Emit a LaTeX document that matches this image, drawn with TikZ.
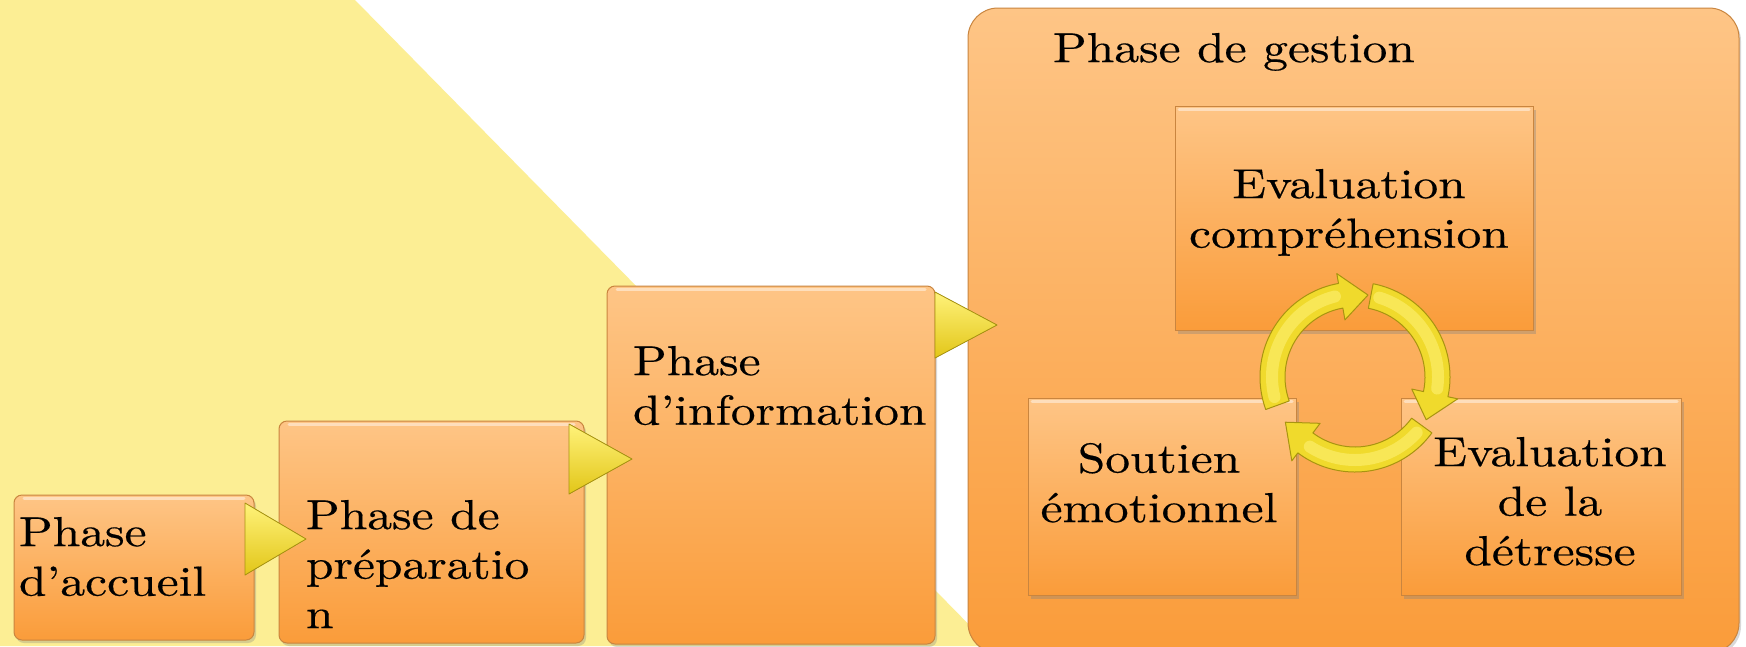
\documentclass[tikz,border=0pt]{standalone}
\usepackage{fontspec}
\setmainfont{lmroman10-regular.otf}[FakeStretch=1.18, FakeBold=0.4]
\usetikzlibrary{shadows}
\definecolor{bgyellow}{HTML}{FCEE94}
\definecolor{boxtop}{HTML}{FEC586}
\definecolor{boxbot}{HTML}{FA9C3A}
\definecolor{boxedge}{HTML}{C9853F}
\definecolor{arrowfill}{HTML}{F0DA2C}
\definecolor{arrowlight}{HTML}{FFF27A}
\definecolor{arrowdark}{HTML}{E2C618}
\definecolor{arrowedge}{HTML}{A89410}
\begin{document}
\begin{tikzpicture}[x=1pt,y=-1pt,
  phasebox/.style={draw=boxedge, line width=1pt, rounded corners=8pt, top color=boxtop, bottom color=boxbot,
    inner sep=0pt, outer sep=0pt, anchor=north west,
    drop shadow={opacity=0.3, shadow xshift=2pt, shadow yshift=-3pt}},
  groupbox/.style={phasebox, rounded corners=30pt},
  stepbox/.style={draw=boxedge, line width=1pt, top color=boxtop, bottom color=boxbot,
    inner sep=0pt, outer sep=0pt, anchor=north west,
    drop shadow={opacity=0.35, shadow xshift=3pt, shadow yshift=-4pt}},
  bevel/.style={draw=white, line width=3pt, opacity=0.45, line cap=round},
  flowtri/.style={draw=arrowedge, line width=0.8pt, top color=arrowlight, bottom color=arrowdark, line join=round},
  ringarrow/.style={draw=arrowedge, line width=1pt, fill=arrowfill, line join=round},
  ringlight/.style={draw=arrowlight, line width=12pt, opacity=0.55, line cap=round},
  lbl/.style={inner sep=0pt, outer sep=0pt, font=\fontsize{42}{49.5}\selectfont, text=black}]
\useasboundingbox (0,0) rectangle (1746,646);
\fill[white] (0,0) rectangle (1746,646);
% yellow background
\fill[bgyellow] (0,0) -- (355,0) -- (990,646) -- (0,646) -- cycle;

% phase boxes
\node[phasebox, minimum width=240, minimum height=145] (acc) at (14,495) {};
\node[phasebox, minimum width=305, minimum height=222] (prep) at (279,421) {};
\node[phasebox, minimum width=328, minimum height=358] (info) at (607,286) {};
\node[groupbox, minimum width=771, minimum height=645] (gest) at (968,8) {};
\draw[bevel] ([xshift=10pt,yshift=-3pt]acc.north west) -- ([xshift=-10pt,yshift=-3pt]acc.north east);
\draw[bevel] ([xshift=10pt,yshift=-3pt]prep.north west) -- ([xshift=-10pt,yshift=-3pt]prep.north east);
\draw[bevel] ([xshift=10pt,yshift=-3pt]info.north west) -- ([xshift=-10pt,yshift=-3pt]info.north east);

% flow triangles
\filldraw[flowtri] (245,503) -- (306,539) -- (245,575) -- cycle;
\filldraw[flowtri] (569,424) -- (632,459) -- (569,494) -- cycle;
\filldraw[flowtri] (935,292) -- (997,325) -- (935,358) -- cycle;

% inner boxes
\node[stepbox, minimum width=358, minimum height=224] (evc) at (1175,106) {};
\node[stepbox, minimum width=268, minimum height=197] (sout) at (1028,398) {};
\node[stepbox, minimum width=280, minimum height=197] (detr) at (1401,398) {};
\draw[bevel] ([xshift=4pt,yshift=-3pt]evc.north west) -- ([xshift=-4pt,yshift=-3pt]evc.north east);
\draw[bevel] ([xshift=4pt,yshift=-3pt]sout.north west) -- ([xshift=-4pt,yshift=-3pt]sout.north east);
\draw[bevel] ([xshift=4pt,yshift=-3pt]detr.north west) -- ([xshift=-4pt,yshift=-3pt]detr.north east);

% cycle arrows
\begin{scope}[shift={(1355,377)}, yscale=-1]
  \filldraw[ringarrow] (200:95) arc[start angle=200, end angle=100, radius=95]
     -- (100:105) -- (81:83) -- (100:58) -- (100:70)
     arc[start angle=100, end angle=200, radius=70] -- cycle;
  \filldraw[ringarrow] (79:95) arc[start angle=79, end angle=-12, radius=95]
     -- (-12:105) -- (-31:83) -- (-12:58) -- (-12:70)
     arc[start angle=-12, end angle=79, radius=70] -- cycle;
  \filldraw[ringarrow] (-36:95) arc[start angle=-36, end angle=-127, radius=95]
     -- (-127:105) -- (-147:83) -- (-127:58) -- (-127:70)
     arc[start angle=-127, end angle=-36, radius=70] -- cycle;
  \draw[ringlight] (194:83) arc[start angle=194, end angle=104, radius=83];
  \draw[ringlight] (73:83) arc[start angle=73, end angle=-8, radius=83];
  \draw[ringlight] (-42:83) arc[start angle=-42, end angle=-123, radius=83];
\end{scope}

% labels
\node[lbl, align=left, anchor=north west] (tacc) at (19,517) {Phase\\d’accueil};
\node[lbl, align=left, anchor=north west] (tprep) at (306,500) {Phase de\\préparatio\\n};
\node[lbl, align=left, anchor=north west] (tinfo) at (633,346) {Phase\\d’information};
\node[lbl, anchor=north west] (tgest) at (1053,33) {Phase de gestion};
\node[lbl, align=center, anchor=north] (tevc) at (1349,169) {Evaluation\\compréhension};
\node[lbl, align=center, anchor=north] (tsout) at (1159,443) {Soutien\\émotionnel};
\node[lbl, align=center, anchor=north] (tdetr) at (1550,437) {Evaluation\\de la\\détresse};
\end{tikzpicture}
\end{document}
